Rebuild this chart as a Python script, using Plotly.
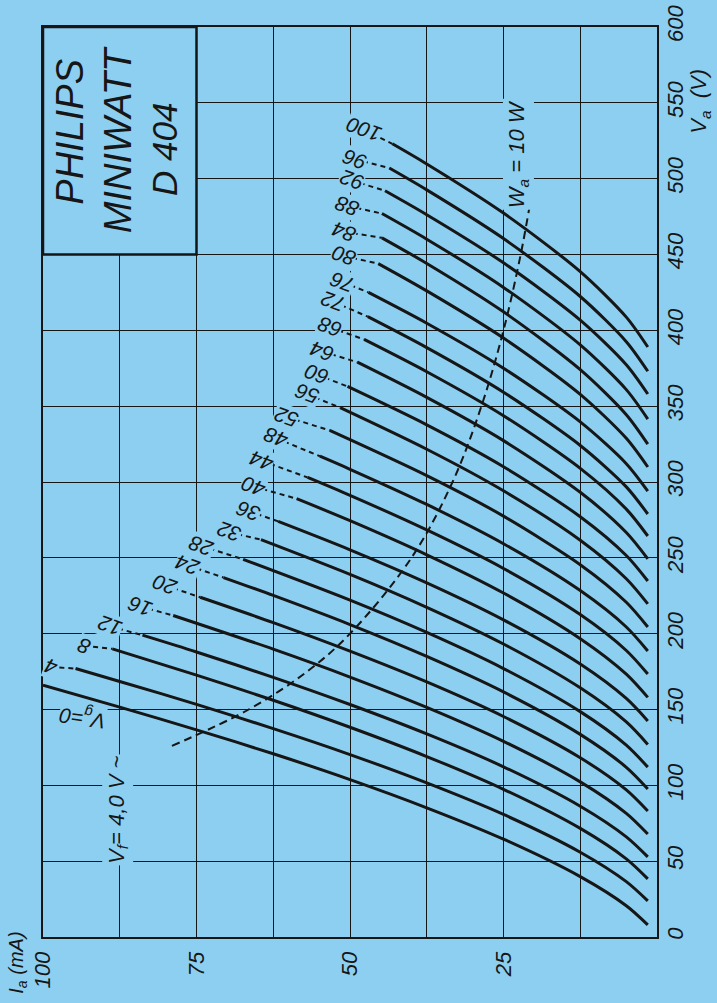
import plotly.graph_objects as go

BG = "#8dcff0"
INK = "#161616"
FONT = "Liberation Sans"

# Grid voltages (negative values, labels shown without sign)
vg_labels = ["0", "4", "8", "12", "16", "20", "24", "28", "32", "36", "40", "44", "48",
             "52", "56", "60", "64", "68", "72", "76", "80", "84", "88", "92", "96", "100"]

# Anode current Ia (mA) and anode voltage Va (V)
curve_ia = [
    [1.5, 5, 12.5, 25, 37.5, 50, 62.5, 75, 87.5, 100],
    [1.5, 5, 12.5, 25, 37.5, 50, 62.5, 75, 87.5, 94.7],
    [1.5, 5, 12.5, 25, 37.5, 50, 62.5, 75, 88.7],
    [1.5, 5, 12.5, 25, 37.5, 50, 62.5, 75, 83.8],
    [1.5, 5, 12.5, 25, 37.5, 50, 62.5, 78.8],
    [1.5, 5, 12.5, 25, 37.5, 50, 62.5, 74.4],
    [1.5, 5, 12.5, 25, 37.5, 50, 62.5, 70.6],
    [1.5, 5, 12.5, 25, 37.5, 50, 67.4],
    [1.5, 5, 12.5, 25, 37.5, 50, 64.5],
    [1.5, 5, 12.5, 25, 37.5, 50, 61.7],
    [1.5, 5, 12.5, 25, 37.5, 50, 58.7],
    [1.5, 5, 12.5, 25, 37.5, 50, 56.9],
    [1.5, 5, 12.5, 25, 37.5, 50, 54.9],
    [1.5, 5, 12.5, 25, 37.5, 53.3],
    [1.5, 5, 12.5, 25, 37.5, 51.6],
    [1.5, 5, 12.5, 25, 37.5, 50.4],
    [1.5, 5, 12.5, 25, 37.5, 48.8],
    [1.5, 5, 12.5, 25, 37.5, 47.7],
    [1.5, 5, 12.5, 25, 37.5, 47.1],
    [1.5, 5, 12.5, 25, 37.5, 47.0],
    [1.5, 5, 12.5, 25, 37.5, 45.4],
    [1.5, 5, 12.5, 25, 37.5, 44.8],
    [1.5, 5, 12.5, 25, 37.5, 44.8],
    [1.5, 5, 12.5, 25, 37.5, 44.3],
    [1.5, 5, 12.5, 25, 37.5, 43.6],
    [1.5, 5, 12.5, 25, 37.5, 43.1],
]
curve_va = [
    [8, 20.6, 39.8, 64.5, 85.2, 103.8, 120.8, 136.6, 151.6, 166],
    [23.8, 36.5, 55.9, 80.8, 101.6, 120.3, 137.4, 153.4, 168.5, 177],
    [38.3, 51.5, 71.6, 97.4, 119.0, 138.3, 156.1, 172.7, 190],
    [52.8, 66.0, 86.2, 112.2, 133.9, 153.3, 171.2, 187.9, 199],
    [67.9, 81.5, 102.3, 129.0, 151.4, 171.4, 189.8, 212],
    [83.1, 97.0, 118.2, 145.4, 168.2, 188.5, 207.3, 224],
    [97.6, 111.9, 133.6, 161.6, 185.0, 206.0, 225.2, 237],
    [112, 126.5, 148.6, 177.0, 200.8, 222.1, 249],
    [127, 141.8, 164.3, 193.2, 217.4, 239.1, 262],
    [142.5, 157.3, 180.0, 209.1, 233.5, 255.3, 274],
    [158, 173.3, 196.7, 226.8, 252.0, 274.5, 289],
    [173.4, 188.9, 212.6, 243.0, 268.4, 291.2, 303],
    [188.6, 204.4, 228.4, 259.3, 285.2, 308.4, 317],
    [204.4, 220.7, 245.5, 277.5, 304.2, 334],
    [219.6, 236.2, 261.6, 294.2, 321.6, 349],
    [234.7, 251.5, 277.1, 310.1, 337.7, 363],
    [249.3, 266.7, 293.2, 327.3, 355.8, 379],
    [264.4, 282.1, 309.0, 343.7, 372.7, 394],
    [278.9, 296.8, 324.1, 359.2, 388.6, 409],
    [294, 312.1, 339.6, 375.0, 404.7, 425],
    [309.9, 328.8, 357.8, 394.9, 426.0, 444],
    [325, 344.4, 374.1, 412.2, 444.1, 461],
    [341.5, 360.9, 390.4, 428.3, 460.1, 477],
    [358, 377.3, 406.7, 444.5, 476.2, 492],
    [373, 392.5, 422.3, 460.5, 492.6, 507],
    [389, 408.7, 438.7, 477.3, 509.7, 523],
]

# Curve label positions (Ia, Va)
label_ia = [93.5, 98.8, 93.3, 89.2, 84.3, 80.2, 76.4, 74.3, 69.8, 66.6, 65.7, 64.4, 62.1,
            60.4, 57.1, 55.5, 54.5, 53.3, 52.8, 51.3, 51.1, 51.0, 50.4, 49.8, 49.3, 47.7]
label_va = [145, 178, 192, 205, 218, 232, 245, 258, 267, 281, 297, 314, 329,
            343, 358, 371, 386, 402, 419, 432, 449, 465, 482, 499, 513, 532]

# Anode dissipation limit Wa = 10 W
wa_va = [126, 150, 175, 200, 250, 300, 350, 400, 450, 490]
wa_ia = [79, 66.5, 57, 50, 40, 33.3, 28.6, 25, 22.2, 20.4]

ia_ticks = [25, 50, 75, 100]
ia_ticktext = ["25", "50", "75", "100"]
ia_minor = [12.5, 37.5, 62.5, 87.5]
va_ticks = [0, 50, 100, 150, 200, 250, 300, 350, 400, 450, 500, 550, 600]

fig = go.Figure()

for ia, va in zip(curve_ia, curve_va):
    fig.add_trace(go.Scatter(x=ia, y=va, mode="lines",
                             line=dict(color=INK, width=3, shape="spline", smoothing=0.8),
                             hoverinfo="skip", showlegend=False))

# dashed leaders from labels to curve ends
for i in range(1, len(vg_labels)):
    fig.add_trace(go.Scatter(x=[label_ia[i], curve_ia[i][-1]], y=[label_va[i], curve_va[i][-1]],
                             mode="lines", line=dict(color=INK, width=2, dash="5px,4px"),
                             hoverinfo="skip", showlegend=False))

fig.add_trace(go.Scatter(x=wa_ia, y=wa_va, mode="lines",
                         line=dict(color=INK, width=2, dash="8px,5px", shape="spline"),
                         hoverinfo="skip", showlegend=False))

tfont = dict(family=FONT, size=21, color=INK, style="italic")

for i, lab in enumerate(vg_labels):
    text = "V<sub>g</sub>=0" if i == 0 else lab
    fig.add_annotation(x=label_ia[i], y=label_va[i], text=text, showarrow=False,
                       textangle=-172 if i == 0 else -160, font=tfont, bgcolor=BG,
                       borderpad=0)

# title box (Ia 75-100, Va 450-600)
fig.add_shape(type="rect", x0=100, x1=75, y0=450, y1=600, xref="x", yref="y",
              fillcolor=BG, line=dict(color=INK, width=2.5), layer="above")

big = dict(family=FONT, size=38, color=INK, style="italic")
fig.add_annotation(x=95.6, y=531, text="PHILIPS", showarrow=False, textangle=-90, font=big)
fig.add_annotation(x=87.8, y=526, text="MINIWATT", showarrow=False, textangle=-90, font=big)
fig.add_annotation(x=80.1, y=519, text="D 404", showarrow=False, textangle=-90,
                   font=dict(family=FONT, size=35, color=INK, style="italic"))

fig.add_annotation(x=87.9, y=84, text="V<sub>f</sub>= 4,0 V ~", showarrow=False, textangle=-90,
                   font=dict(family=FONT, size=22, color=INK, style="italic"), bgcolor=BG)
fig.add_annotation(x=22.5, y=516, text="W<sub>a</sub> = 10 W", showarrow=False, textangle=-90,
                   font=dict(family=FONT, size=22, color=INK, style="italic"), bgcolor=BG)

fig.add_annotation(x=-0.042, y=-0.028, xref="paper", yref="paper", xanchor="center", yanchor="middle",
                   text="I<sub>a</sub> (mA)", showarrow=False, textangle=-90,
                   font=dict(family=FONT, size=20, color=INK, style="italic"))
fig.add_annotation(x=1.07, y=0.919, xref="paper", yref="paper", xanchor="center", yanchor="middle",
                   text="V<sub>a</sub>  (V)", showarrow=False, textangle=-90,
                   font=dict(family=FONT, size=22, color=INK, style="italic"))

axis_common = dict(showgrid=True, gridcolor=INK, gridwidth=1, showline=True, mirror=True,
                   linecolor=INK, linewidth=2, ticks="", zeroline=False, automargin=False,
                   ticklabeloverflow="allow",
                   tickfont=dict(family=FONT, size=22, color=INK, style="italic"))

fig.update_xaxes(range=[100, 0], tickvals=ia_ticks, ticktext=ia_ticktext, tickangle=-90,
                 ticklabelstandoff=4,
                 minor=dict(tickvals=ia_minor, showgrid=True, gridcolor=INK, gridwidth=1, ticks=""),
                 **axis_common)
fig.update_yaxes(range=[0, 600], tickvals=va_ticks, side="right", tickangle=-90,
                 ticklabelstandoff=-2, **axis_common)

fig.update_layout(width=717, height=1003, paper_bgcolor=BG, plot_bgcolor=BG,
                  margin=dict(l=43, r=60, t=27, b=66), showlegend=False)

page_css = ("document.body.style.margin='0';document.body.style.background='%s';"
            "document.documentElement.style.background='%s';" % (BG, BG))
fig.write_html("out.html", post_script=page_css, config={"displayModeBar": False})
